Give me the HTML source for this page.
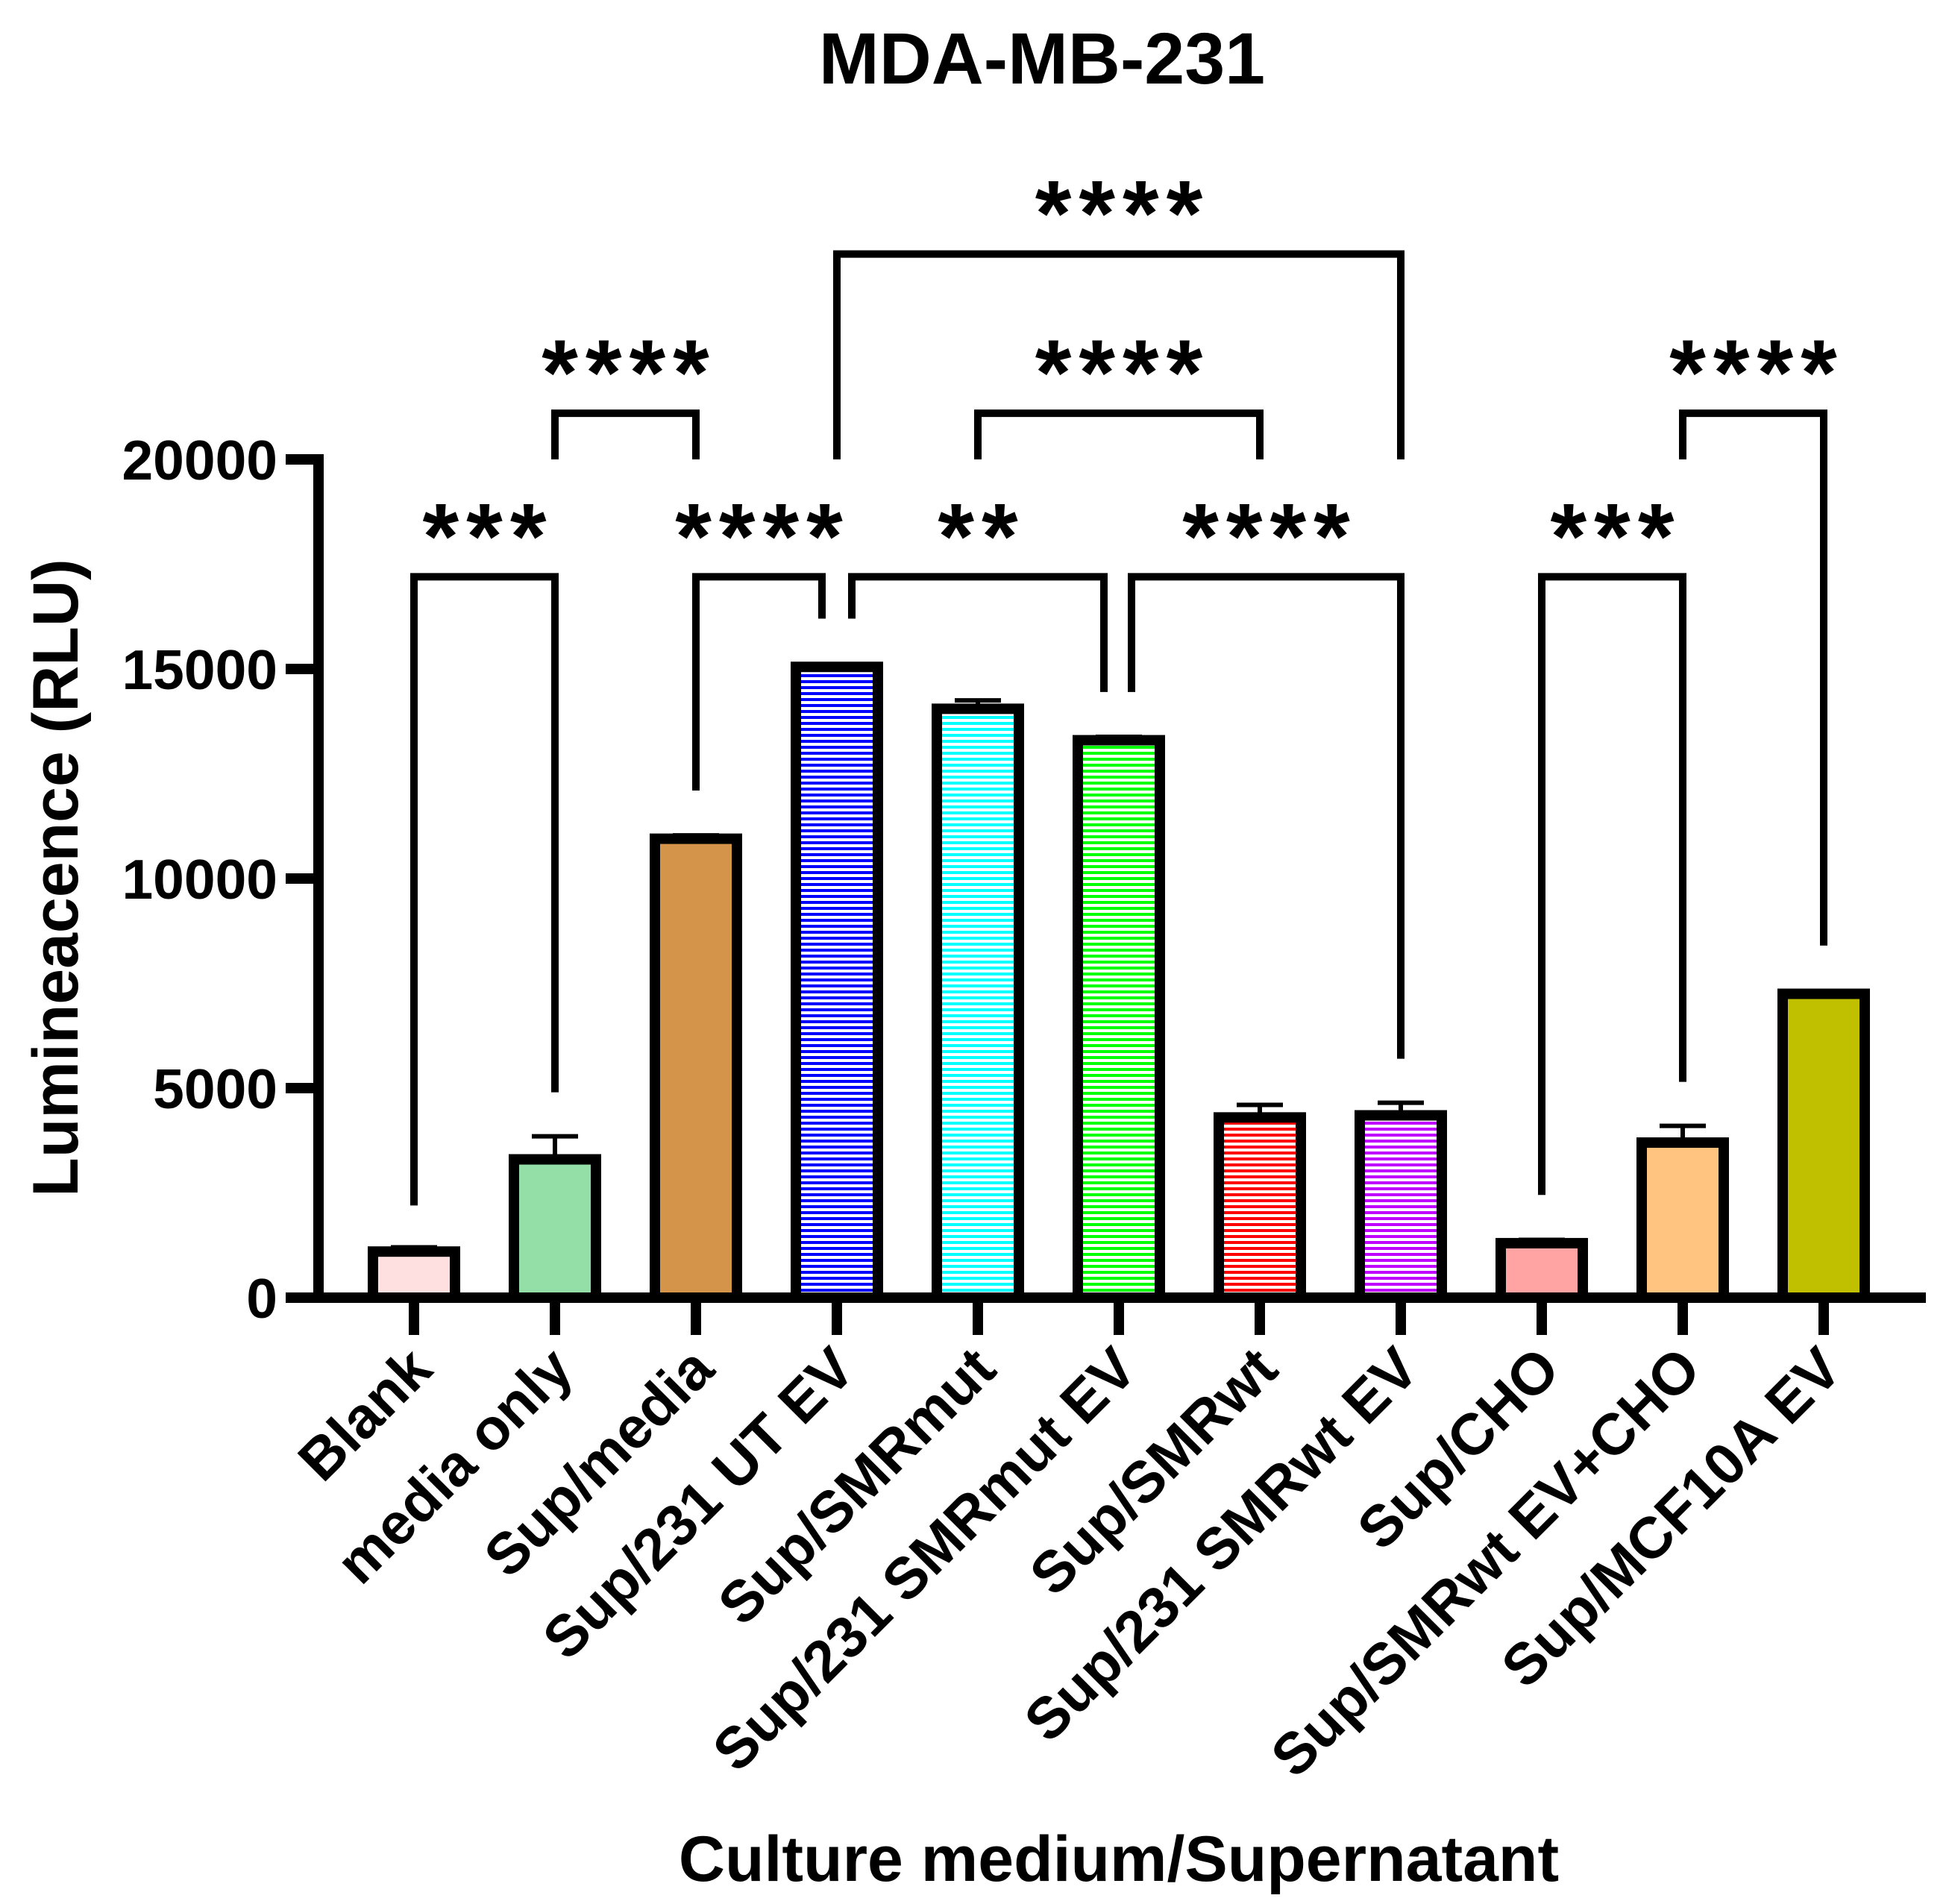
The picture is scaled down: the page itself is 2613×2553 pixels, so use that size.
<!DOCTYPE html>
<html><head><meta charset="utf-8"><style>
html,body{margin:0;padding:0;background:#fff}
svg{display:block;font-family:"Liberation Sans",Arial,sans-serif;font-weight:bold}
</style></head><body>
<svg id="chart" width="2613" height="2553" viewBox="0 0 2613 2553" xmlns="http://www.w3.org/2000/svg">
<defs>
<pattern id="p-blue" width="8" height="8" patternUnits="userSpaceOnUse"><rect width="8" height="8" fill="#fff"/><rect width="8" height="4" fill="#0000ff"/></pattern>
<pattern id="p-cyan" width="8" height="8" patternUnits="userSpaceOnUse"><rect width="8" height="8" fill="#fff"/><rect width="8" height="4" fill="#00ffff"/></pattern>
<pattern id="p-green" width="8" height="8" patternUnits="userSpaceOnUse"><rect width="8" height="8" fill="#fff"/><rect width="8" height="4" fill="#00ff00"/></pattern>
<pattern id="p-red" width="8" height="8" patternUnits="userSpaceOnUse"><rect width="8" height="8" fill="#fff"/><rect width="8" height="4" fill="#ff0000"/></pattern>
<pattern id="p-mag" width="8" height="8" patternUnits="userSpaceOnUse"><rect width="8" height="8" fill="#fff"/><rect width="8" height="4" fill="#c000ff"/></pattern>
</defs>
<text x="1397" y="112" font-size="97" text-anchor="middle">MDA-MB-231</text>
<text transform="translate(104,1177) rotate(-90)" font-size="86" text-anchor="middle">Lumineacence (RLU)</text>
<text x="1500" y="2522" font-size="86" text-anchor="middle">Culture medium/Supernatant</text>
<g id="plot"></g>
</svg>
<script>
const categories = ["Blank","media only","Sup/media","Sup/231 UT EV","Sup/SMRmut","Sup/231 SMRmut EV","Sup/SMRwt","Sup/231 SMRwt EV","Sup/CHO","Sup/SMRwt EV+CHO","Sup/MCF10A EV"];
const values = [1100,3300,10950,15050,14050,13300,4300,4350,1300,3700,7250];
const errors = [100,550,80,50,200,80,300,300,80,400,60];
const fills = ["#ffe0e0","#94dea8","#d4954a","url(#p-blue)","url(#p-cyan)","url(#p-green)","url(#p-red)","url(#p-mag)","#ffa3a3","#ffc580","#c0c000"];
const yTicks = [0,5000,10000,15000,20000];
// brackets: [i, j, bracketValue, leftLegValue, rightLegValue, label, leftOffset, rightOffset]
const brackets = [
 [0,1,17200,2200,4900,"***",0,0],
 [1,2,21100,20000,20000,"****",0,0],
 [2,3,17200,12100,16200,"****",0,-20],
 [3,5,17200,16200,14450,"**",20,-20],
 [5,7,17200,14450,5700,"****",17,0],
 [3,7,24900,20000,20000,"****",0,0],
 [4,6,21100,20000,20000,"****",0,0],
 [8,9,17200,2450,5150,"***",0,0],
 [9,10,21100,20000,8400,"****",0,0]
];
const NS="http://www.w3.org/2000/svg";
const g=document.getElementById('plot');
const X0=555, DX=189, Y0=1740, YS=1124/20000;
const xS=i=>X0+i*DX, yS=v=>Y0-v*YS;
function mk(t,a){const e=document.createElementNS(NS,t);for(const k in a)e.setAttribute(k,a[k]);g.appendChild(e);return e;}
let e=mk('line',{x1:427,y1:yS(20000)-7,x2:427,y2:Y0+7,stroke:'#000','stroke-width':14});


yTicks.forEach(v=>{
 let t=mk('line',{x1:383,y1:yS(v),x2:427,y2:yS(v),stroke:'#000','stroke-width':14});
 
 
 let l=mk('text',{x:372,y:yS(v)+27,'font-size':75,'text-anchor':'end'});l.textContent=v;
 
 
});
categories.forEach((c,i)=>{
 const x=xS(i), top=yS(values[i]);
 let eb=mk('line',{x1:x,y1:yS(values[i]+errors[i]),x2:x,y2:top,stroke:'#000','stroke-width':6});
 
 
 let cap=mk('line',{x1:x-31,y1:yS(values[i]+errors[i]),x2:x+31,y2:yS(values[i]+errors[i]),stroke:'#000','stroke-width':6});
 
 
 let r=mk('rect',{x:x-55,y:top,width:110,height:Y0-top,fill:fills[i],stroke:'#000','stroke-width':14});
 
 
 let tk=mk('line',{x1:x,y1:Y0,x2:x,y2:Y0+50,stroke:'#000','stroke-width':14});
 
 
 let tl=mk('text',{transform:`translate(${x+28},${Y0+100}) rotate(-45)`,'font-size':78,'text-anchor':'end'});tl.textContent=c;
 
 
});
e=mk('line',{x1:420,y1:Y0,x2:2582,y2:Y0,stroke:'#000','stroke-width':14});


brackets.forEach(b=>{
 const [i,j,bv,lv,rv,lab,lo,ro]=b;
 const xl=xS(i)+lo, xr=xS(j)+ro, yb=yS(bv);
 let p=mk('path',{d:`M${xl},${yS(lv)} L${xl},${yb} L${xr},${yb} L${xr},${yS(rv)}`,fill:'none',stroke:'#000','stroke-width':10});
 
 
 let s=mk('text',{x:(xl+xr)/2+5,y:yb-11,'font-size':125,'text-anchor':'middle','letter-spacing':10});s.textContent=lab;
 
 
});
</script>
</body></html>
